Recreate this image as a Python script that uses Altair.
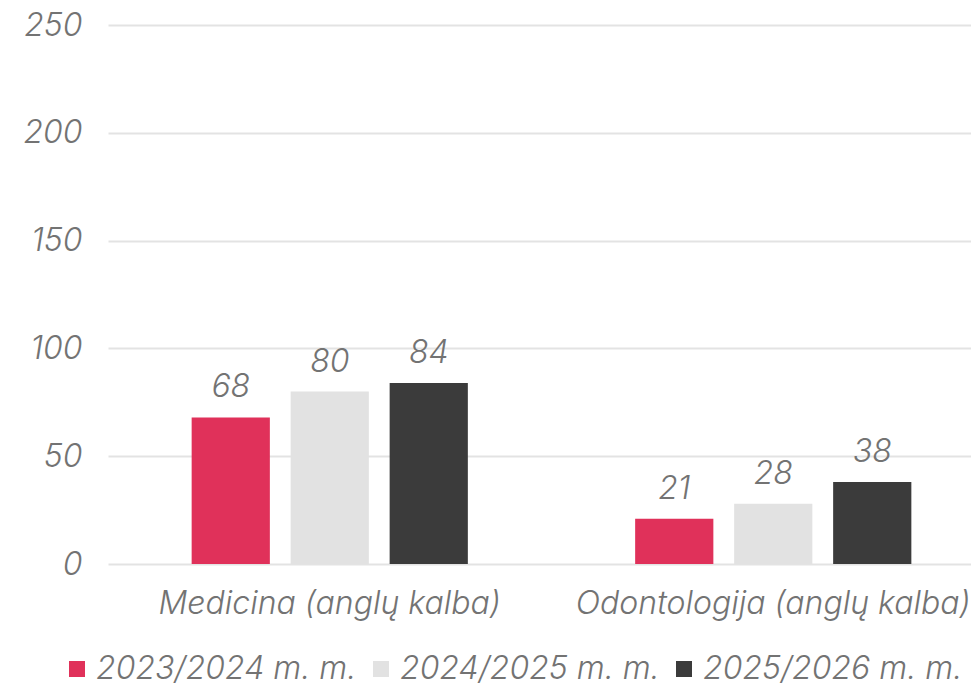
import altair as alt
import pandas as pd

categories = ["Medicina (anglų kalba)", "Odontologija (anglų kalba)"]
years = ["2023/2024 m. m.", "2024/2025 m. m.", "2025/2026 m. m."]
values_2023 = [68, 21]
values_2024 = [80, 28]
values_2025 = [84, 38]
colors = ["#E0315A", "#E2E2E2", "#3B3B3B"]
y_ticks = [0, 50, 100, 150, 200, 250]

rows = []
for yr, vals in zip(years, [values_2023, values_2024, values_2025]):
    for c, v in zip(categories, vals):
        rows.append({"category": c, "year": yr, "value": v})
df = pd.DataFrame(rows)

FONT = "Inter"
TEXT = "#737373"
FS = 32
FW = 300

x_enc = alt.X(
    "category:N", sort=categories,
    scale=alt.Scale(range=[0, 887], paddingInner=0, paddingOuter=0),
    axis=alt.Axis(title=None, labelAngle=0, domain=False, ticks=False,
                  labelPadding=24, labelFontSize=FS, labelFont=FONT,
                  labelFontStyle="italic", labelFontWeight=FW,
                  labelColor=TEXT, labelLimit=600),
)
xoff_enc = alt.XOffset("year:N", sort=years,
                       scale=alt.Scale(paddingInner=0.21, paddingOuter=0.845))
y_enc = alt.Y(
    "value:Q", scale=alt.Scale(domain=[0, 250], nice=False),
    axis=alt.Axis(title=None, values=y_ticks, domain=False, ticks=False,
                  labelPadding=26, labelFontSize=FS, labelFont=FONT,
                  labelFontStyle="italic", labelFontWeight=FW,
                  labelColor=TEXT, gridColor="#E3E3E3", gridWidth=2),
)

bars = alt.Chart(df).mark_bar().encode(
    x=x_enc, xOffset=xoff_enc, y=y_enc,
    color=alt.Color(
        "year:N", sort=years,
        scale=alt.Scale(domain=years, range=colors),
        legend=alt.Legend(title=None, orient="none", legendX=-47, legendY=628,
                          direction="horizontal", symbolType="square",
                          symbolSize=256, symbolStrokeWidth=0,
                          labelFontSize=FS, labelFont=FONT,
                          labelFontStyle="italic", labelFontWeight=FW,
                          labelColor=TEXT, labelOffset=3, columnPadding=8,
                          labelLimit=600),
    ),
)

labels = alt.Chart(df).mark_text(
    dy=-20, baseline="alphabetic", fontSize=FS, fontStyle="italic",
    fontWeight=FW, color=TEXT, font=FONT,
).encode(x=x_enc, xOffset=xoff_enc, y=y_enc, text=alt.Text("value:Q"))

chart = alt.layer(bars, labels).properties(
    width=863, height=539,
    autosize=alt.AutoSizeParams(type="none"),
    padding={"left": 100, "top": 17, "right": 0, "bottom": 124},
).configure_view(stroke=None)

chart.save("out.html", embed_options={"renderer": "svg", "actions": False})
